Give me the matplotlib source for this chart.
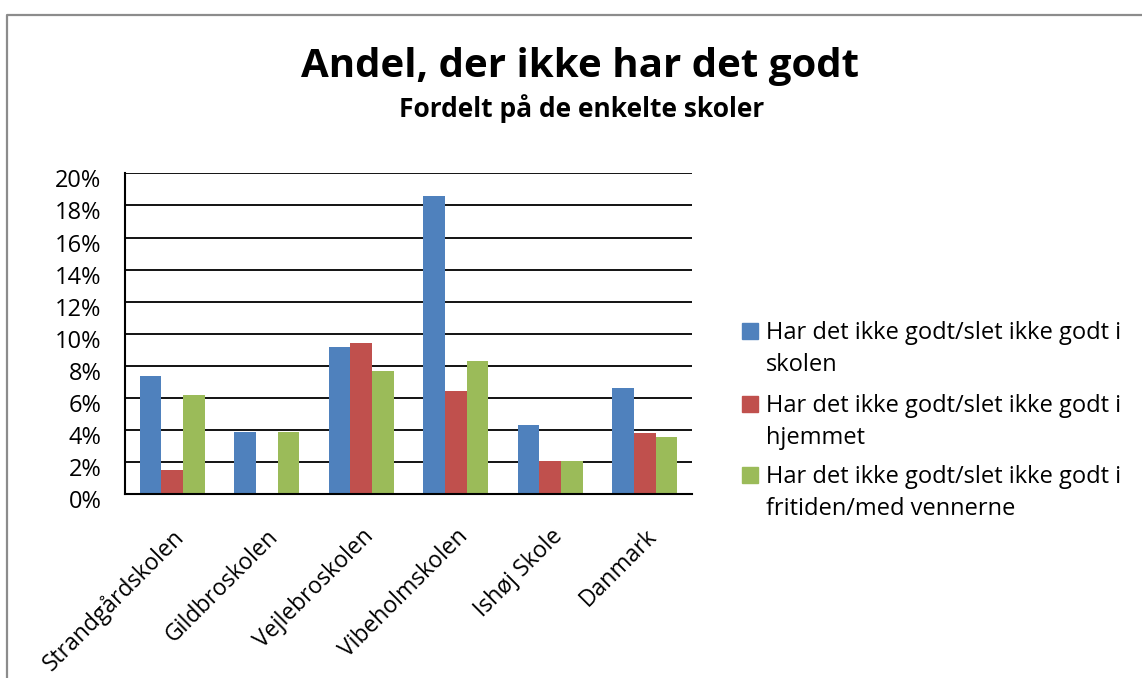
import matplotlib
matplotlib.use('Agg')
import matplotlib.pyplot as plt
import matplotlib.patches as mpatches
import matplotlib.lines as mlines
from matplotlib.transforms import ScaledTranslation
from matplotlib.ticker import FuncFormatter
import numpy as np

plt.rcParams['font.family'] = ['Open Sans', 'DejaVu Sans']

schools = ['Strandgårdskolen', 'Gildbroskolen', 'Vejlebroskolen',
           'Vibeholmskolen', 'Ishøj Skole', 'Danmark']
series_names = [
    'Har det ikke godt/slet ikke godt i\nskolen',
    'Har det ikke godt/slet ikke godt i\nhjemmet',
    'Har det ikke godt/slet ikke godt i\nfritiden/med vennerne',
]
skolen = [7.4, 3.9, 9.2, 18.6, 4.3, 6.6]
hjemmet = [1.5, 0.0, 9.4, 6.45, 2.1, 3.8]
fritiden = [6.2, 3.9, 7.7, 8.3, 2.1, 3.6]
colors = ['#4F81BD', '#C0504D', '#9BBB59']

fig = plt.figure(figsize=(11.42, 6.78), dpi=100)
W, H = 1142, 678

# chart border (only top and left visible in the crop)
fig.add_artist(mlines.Line2D([7 / W, 7 / W, 1.0], [0.0, 1 - 15 / H, 1 - 15 / H],
                             transform=fig.transFigure, color='#8c8c8c', lw=1.6))

ax = fig.add_axes((125 / W, 1 - 494.3 / H, 567 / W, 321 / H))

x = np.arange(len(schools))
bw = 0.23
for i, vals in enumerate([skolen, hjemmet, fritiden]):
    ax.bar(x + (i - 1) * bw, vals, bw, color=colors[i], zorder=3)

ax.set_xlim(-0.5, len(schools) - 0.5)
ax.set_ylim(0, 20)
ax.set_yticks(np.arange(0, 21, 2))
ax.yaxis.set_major_formatter(FuncFormatter(lambda v, p: f'{v:.0f}%'))
ax.grid(axis='y', color='black', lw=1.3, zorder=1)
for s in ['top', 'right']:
    ax.spines[s].set_visible(False)
for s in ['left', 'bottom']:
    ax.spines[s].set_color('black')
    ax.spines[s].set_linewidth(1.5)
    ax.spines[s].set_zorder(4)
ax.tick_params(axis='y', length=0, pad=17, labelsize=17)
ax.tick_params(axis='x', length=0, pad=22, labelsize=16.5)
ax.set_xticks(x, schools, rotation=45, ha='right', va='top', rotation_mode='anchor')
# y labels sit slightly below their gridlines, as in the original
for lbl in ax.get_yticklabels():
    lbl.set_ha('right')
    lbl.set_transform(lbl.get_transform() + ScaledTranslation(0, -5 / 100, fig.dpi_scale_trans))

fig.text(580 / W, 1 - 77 / H, 'Andel, der ikke har det godt', ha='center', va='baseline',
         fontsize=29, fontweight='bold')
fig.text(582 / W, 1 - 117 / H, 'Fordelt på de enkelte skoler', ha='center', va='baseline',
         fontsize=19, fontweight='bold')

# legend
item_y = [331, 404, 475]
for i, name in enumerate(series_names):
    yc = item_y[i]
    fig.add_artist(mpatches.Rectangle((742 / W, 1 - (yc + 8) / H), 16 / W, 16 / H,
                                      transform=fig.transFigure, color=colors[i]))
    for j, line in enumerate(name.split('\n')):
        fig.text(766 / W, 1 - (yc + 8 + 32 * j) / H, line, ha='left', va='baseline',
                 fontsize=17)

fig.savefig('out.png', dpi=100, facecolor='white')
